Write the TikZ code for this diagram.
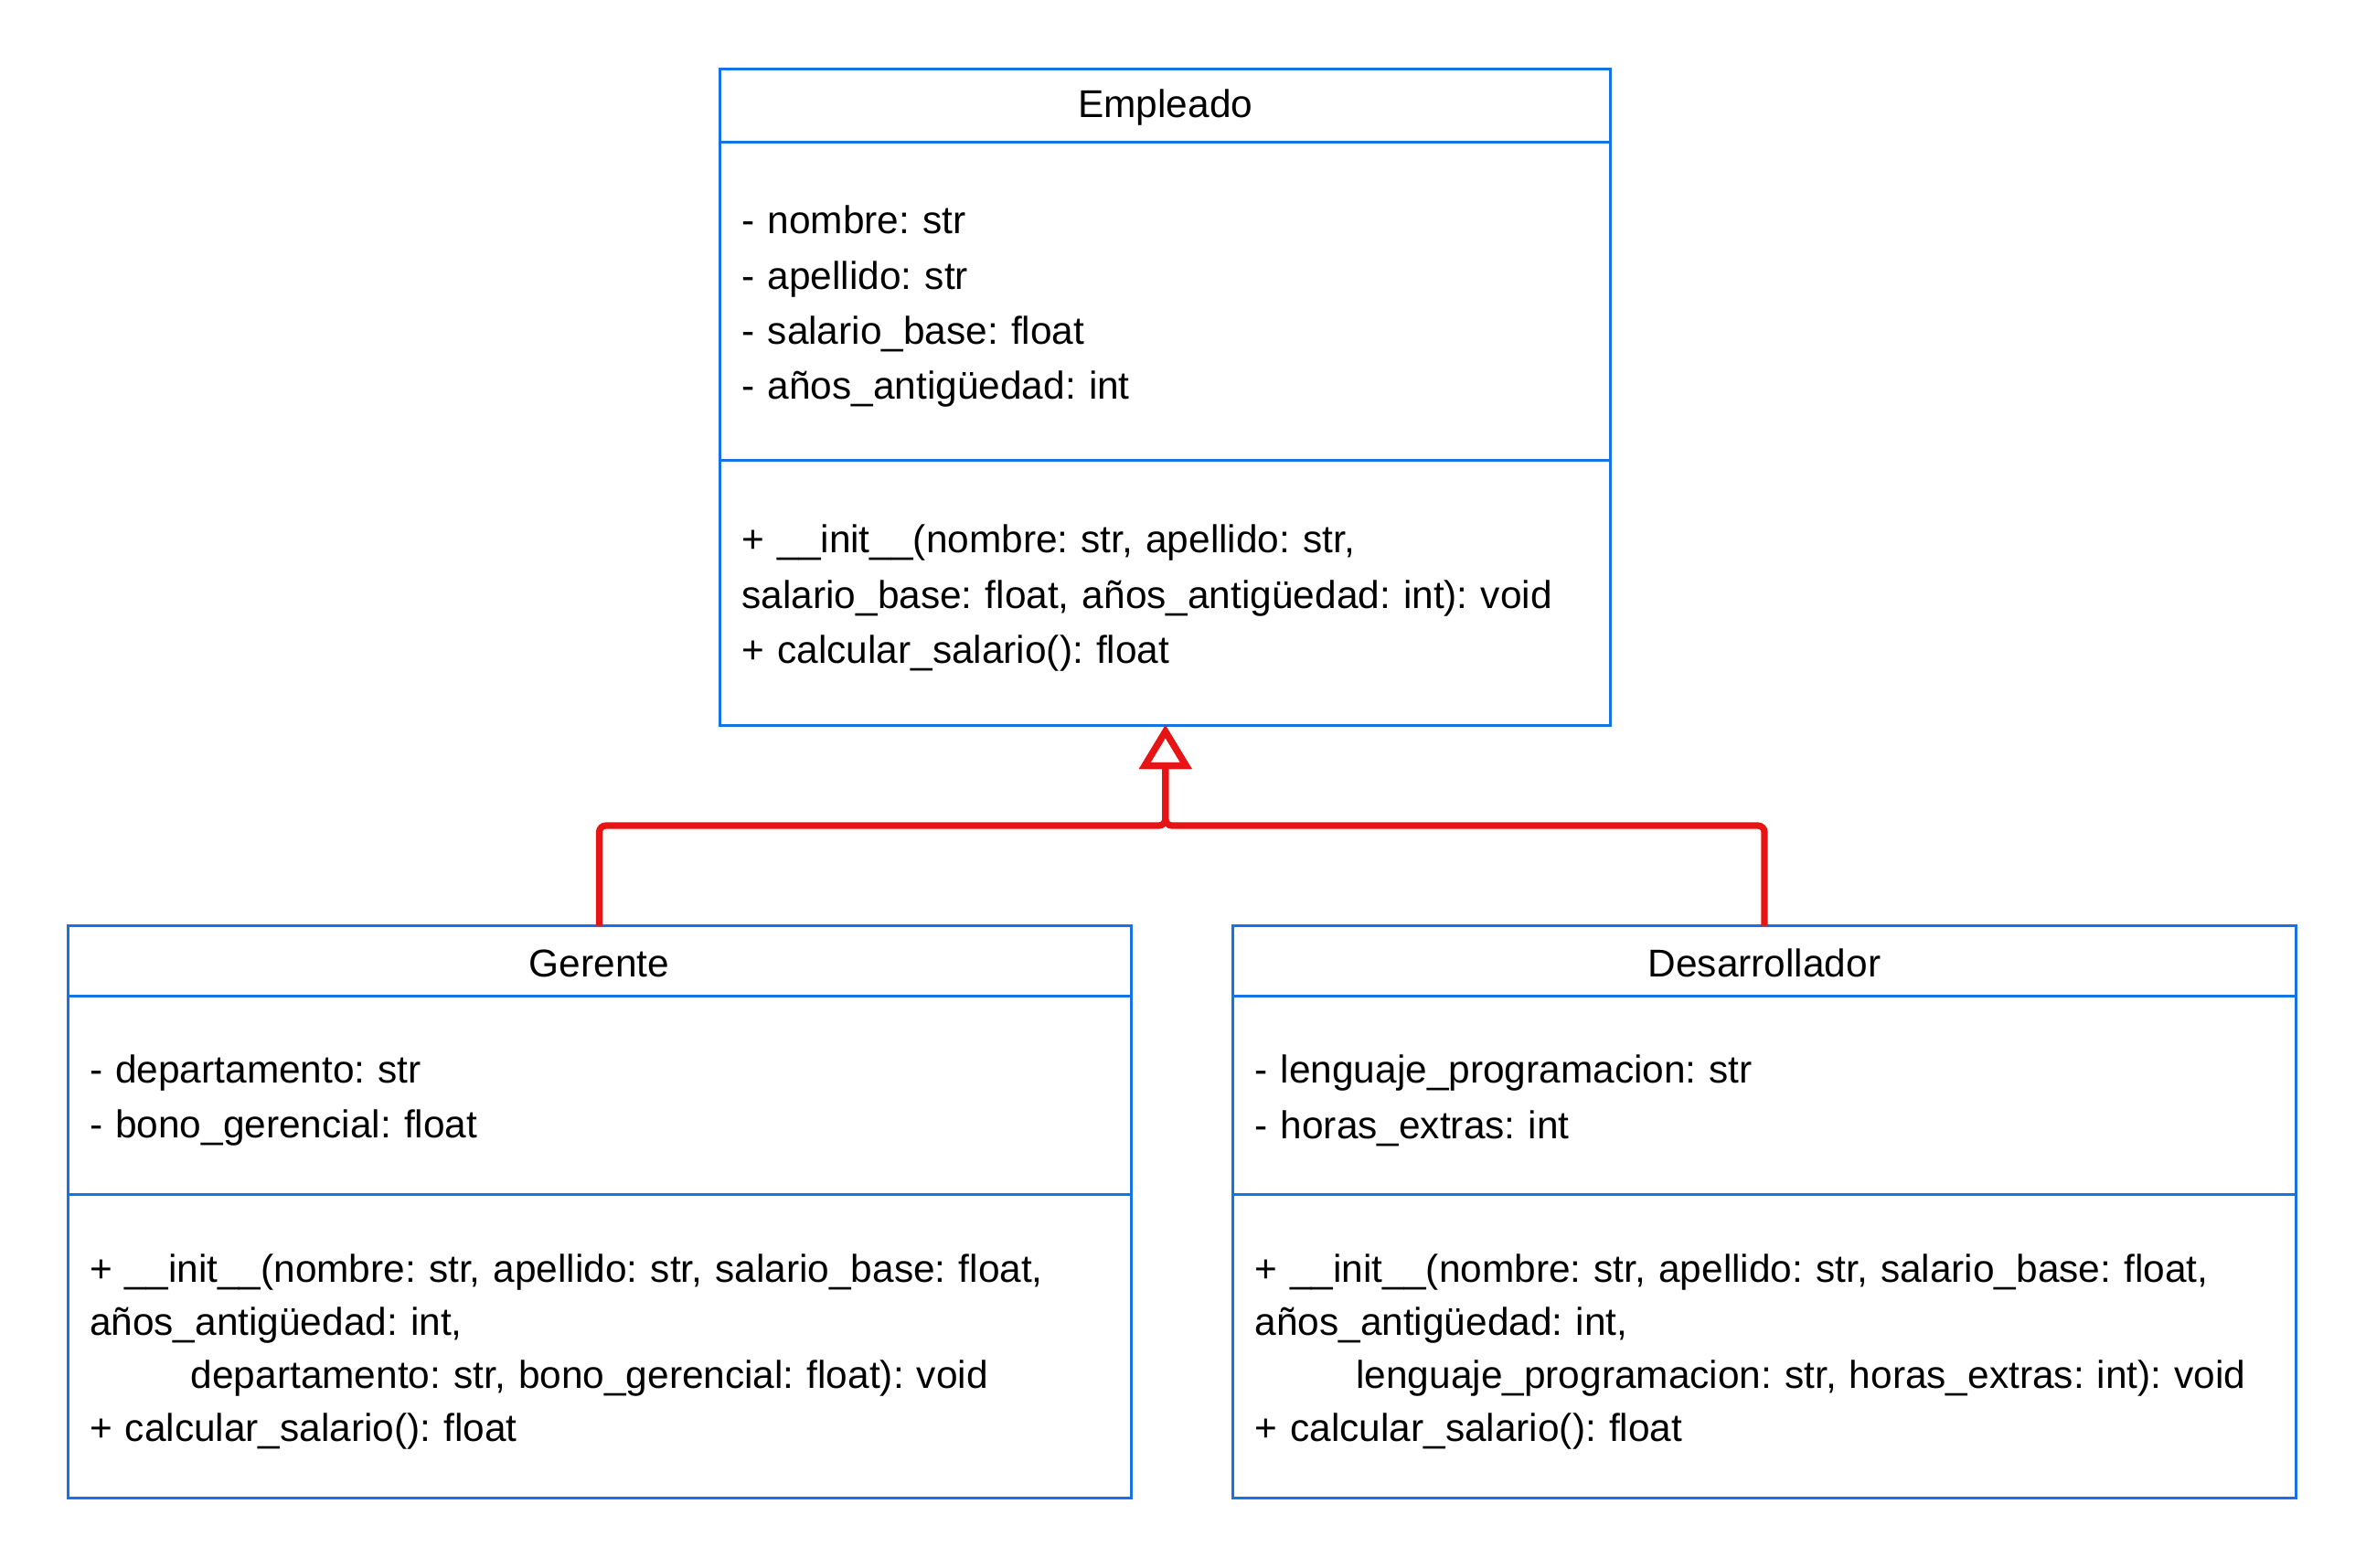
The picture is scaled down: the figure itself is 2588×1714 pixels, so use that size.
\documentclass[tikz,border=0pt]{standalone}
\usepackage{fontspec}
\setmainfont{Liberation Sans}
\usetikzlibrary{positioning,arrows.meta}
\definecolor{umlblue}{RGB}{21,115,230}
\definecolor{umlred}{RGB}{230,20,20}

\begin{document}
\frenchspacing
\begin{tikzpicture}[x=0.25pt,y=-0.25pt,
    cls/.style={draw=umlblue,line width=0.75pt,outer sep=0pt,inner xsep=6pt,inner ysep=0pt,
      font=\fontsize{10.6}{15.1}\selectfont},
    clshead/.style={cls,align=center,execute at begin node={\rule{0pt}{8.9pt}}},
    clsbody/.style={cls,align=left,execute at begin node={\rule{0pt}{10.6pt}}},
    tight/.style={font=\fontsize{10.6}{14.5}\selectfont},
    inherit/.style={draw=umlred,line width=1.8pt,rounded corners=1.8pt,
      -{Triangle[open,width=14pt,length=12pt]}}]
    \useasboundingbox (0,0) rectangle (2588,1714);

    \node[clshead,minimum width=243.6pt,text width=231.6pt,minimum height=20.05pt] at (1274.75,115.1) (Emp) {Empleado};
    \node[clsbody,minimum width=243.6pt,text width=231.6pt,minimum height=87.1pt,below=0pt of Emp] (EmpAt)
      {- nombre: str\\- apellido: str\\- salario\_base: float\\- años\_antigüedad: int};
    \node[clsbody,minimum width=243.6pt,text width=231.6pt,minimum height=72.35pt,below=0pt of EmpAt] (EmpOp)
      {+ \_\_init\_\_(nombre: str, apellido: str,\\salario\_base: float, años\_antigüedad: int): void\\+ calcular\_salario(): float};

    \node[clshead,minimum width=290.75pt,text width=278.75pt,minimum height=19.3pt] at (655.5,1051.1) (Ger) {Gerente};
    \node[clsbody,minimum width=290.75pt,text width=278.75pt,minimum height=54.1pt,below=0pt of Ger] (GerAt)
      {- departamento: str\\- bono\_gerencial: float};
    \node[clsbody,tight,minimum width=290.75pt,text width=278.75pt,minimum height=83.1pt,below=0pt of GerAt] (GerOp)
      {+ \_\_init\_\_(nombre: str, apellido: str, salario\_base: float,\\años\_antigüedad: int,\\
       \hspace*{27.7pt}departamento: str, bono\_gerencial: float): void\\+ calcular\_salario(): float};

    \node[clshead,minimum width=290.75pt,text width=278.75pt,minimum height=19.3pt] at (1930,1051.1) (Des) {Desarrollador};
    \node[clsbody,minimum width=290.75pt,text width=278.75pt,minimum height=54.1pt,below=0pt of Des] (DesAt)
      {- lenguaje\_programacion: str\\- horas\_extras: int};
    \node[clsbody,tight,minimum width=290.75pt,text width=278.75pt,minimum height=83.1pt,below=0pt of DesAt] (DesOp)
      {+ \_\_init\_\_(nombre: str, apellido: str, salario\_base: float,\\años\_antigüedad: int,\\
       \hspace*{27.7pt}lenguaje\_programacion: str, horas\_extras: int): void\\+ calcular\_salario(): float};

    \coordinate (Join) at (Emp.south |- 0,903);
    \draw[inherit] (Ger.north) |- (Join) -- (EmpOp.south);
    \draw[inherit] (Des.north) |- (Join) -- (EmpOp.south);
\end{tikzpicture}
\end{document}
